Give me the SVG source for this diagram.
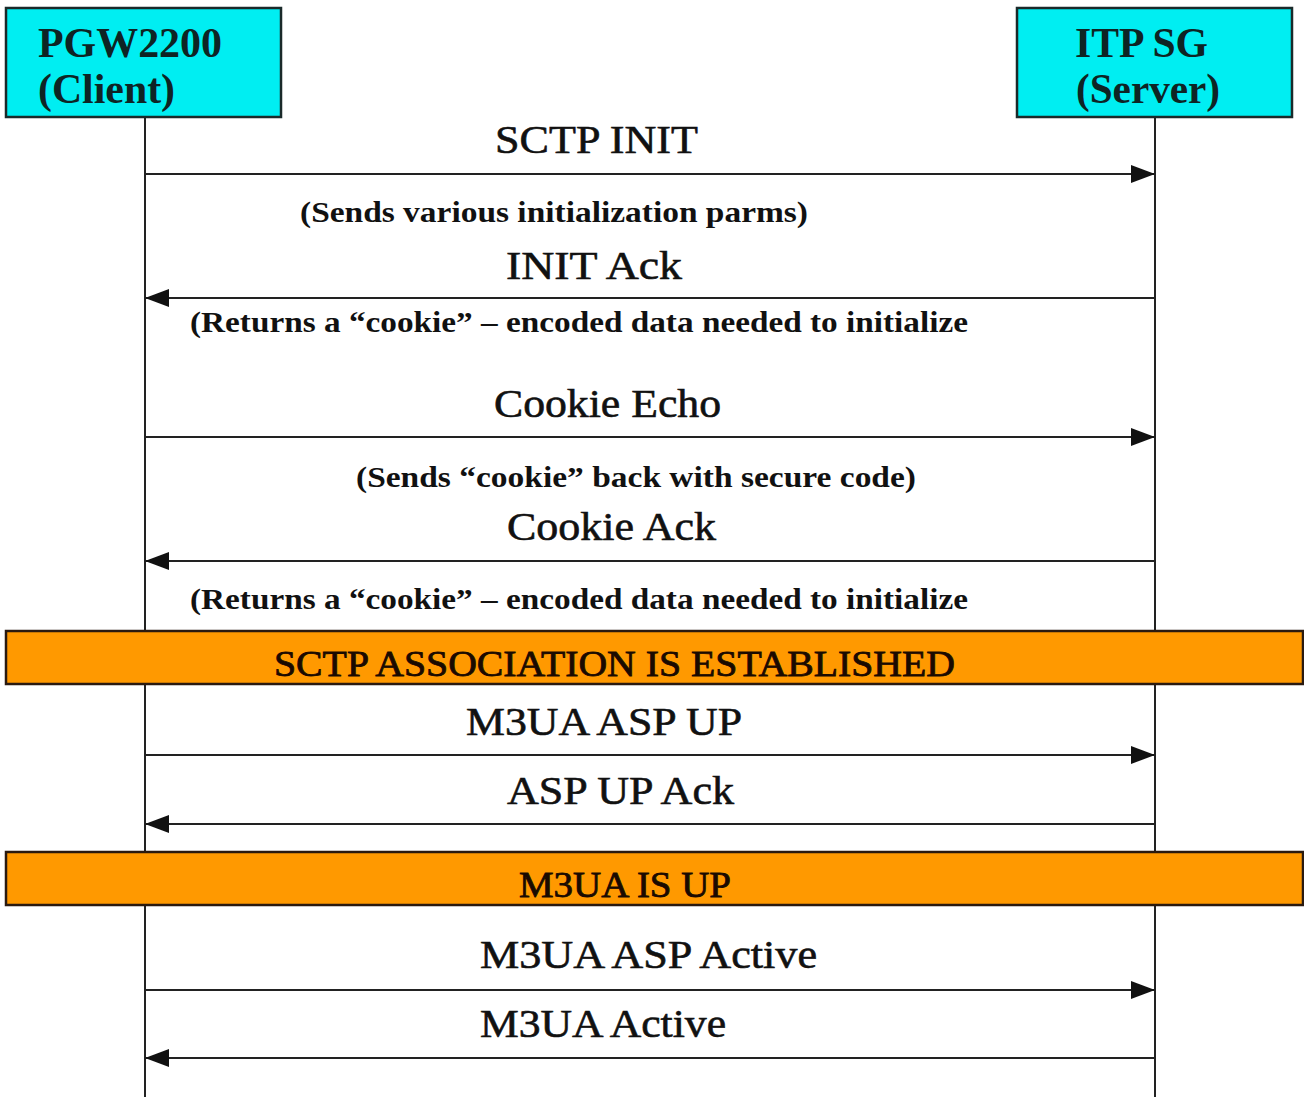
<svg xmlns="http://www.w3.org/2000/svg" width="1304" height="1097" viewBox="0 0 1304 1097">
<style>
.box{fill:#00eef2;stroke:#1a2a2a;stroke-width:2.5}
.bar{fill:#ff9900;stroke:#2a1a10;stroke-width:2.5}
.life{stroke:#222;stroke-width:2}
.msg{stroke:#222;stroke-width:2.2;fill:none;marker-end:url(#ah)}
.hd{font-family:"Liberation Serif","Times New Roman",serif;font-weight:bold;font-size:42px;fill:#0e2424}
.lbl{font-family:"Liberation Serif","Times New Roman",serif;font-size:40px;fill:#111;stroke:#111;stroke-width:0.6}
.lblb{font-family:"Liberation Serif","Times New Roman",serif;font-weight:bold;font-size:30px;fill:#111}
.bart{font-family:"Liberation Serif","Times New Roman",serif;font-size:36px;fill:#1a0a00;stroke:#1a0a00;stroke-width:0.8}
</style>
<defs>
<marker id="ah" markerUnits="userSpaceOnUse" markerWidth="26" markerHeight="20" refX="24" refY="10" orient="auto">
<path d="M0,1 L24,10 L0,19 z" fill="#111"/>
</marker>
</defs>
<rect width="1304" height="1097" fill="#ffffff"/>
<g id="lifelines">
<line class="life" x1="145" y1="118" x2="145" y2="1097"/>
<line class="life" x1="1155" y1="118" x2="1155" y2="1097"/>
</g>
<g id="node-pgw2200">
<rect class="box" x="6" y="8" width="275" height="109"/>
<text class="hd" x="38" y="57" textLength="184" lengthAdjust="spacingAndGlyphs">PGW2200</text>
<text class="hd" x="38" y="103" textLength="137" lengthAdjust="spacingAndGlyphs">(Client)</text>
</g>
<g id="node-itpsg">
<rect class="box" x="1017" y="8" width="275" height="109"/>
<text class="hd" x="1075" y="57" textLength="133" lengthAdjust="spacingAndGlyphs">ITP SG</text>
<text class="hd" x="1076" y="103" textLength="144" lengthAdjust="spacingAndGlyphs">(Server)</text>
</g>
<g id="connectors">
<line class="msg" x1="145" y1="174" x2="1155" y2="174"/>
<line class="msg" x1="1155" y1="298" x2="145" y2="298"/>
<line class="msg" x1="145" y1="437" x2="1155" y2="437"/>
<line class="msg" x1="1155" y1="561" x2="145" y2="561"/>
<line class="msg" x1="145" y1="755" x2="1155" y2="755"/>
<line class="msg" x1="1155" y1="824" x2="145" y2="824"/>
<line class="msg" x1="145" y1="990" x2="1155" y2="990"/>
<line class="msg" x1="1155" y1="1058" x2="145" y2="1058"/>
</g>
<g id="labels">
<text class="lbl" x="495" y="153" textLength="203" lengthAdjust="spacingAndGlyphs">SCTP INIT</text>
<text class="lblb" x="300" y="222" textLength="508" lengthAdjust="spacingAndGlyphs">(Sends various initialization parms)</text>
<text class="lbl" x="506" y="279" textLength="176" lengthAdjust="spacingAndGlyphs">INIT Ack</text>
<text class="lblb" x="190" y="332" textLength="778" lengthAdjust="spacingAndGlyphs">(Returns a “cookie” – encoded data needed to initialize</text>
<text class="lbl" x="494" y="417" textLength="227" lengthAdjust="spacingAndGlyphs">Cookie Echo</text>
<text class="lblb" x="356" y="487" textLength="560" lengthAdjust="spacingAndGlyphs">(Sends “cookie” back with secure code)</text>
<text class="lbl" x="507" y="540" textLength="209" lengthAdjust="spacingAndGlyphs">Cookie Ack</text>
<text class="lblb" x="190" y="609" textLength="778" lengthAdjust="spacingAndGlyphs">(Returns a “cookie” – encoded data needed to initialize</text>
<text class="lbl" x="466" y="735" textLength="276" lengthAdjust="spacingAndGlyphs">M3UA ASP UP</text>
<text class="lbl" x="507" y="804" textLength="227" lengthAdjust="spacingAndGlyphs">ASP UP Ack</text>
<text class="lbl" x="480" y="968" textLength="337" lengthAdjust="spacingAndGlyphs">M3UA ASP Active</text>
<text class="lbl" x="480" y="1037" textLength="246" lengthAdjust="spacingAndGlyphs">M3UA Active</text>
</g>
<g id="node-sctp-established">
<rect class="bar" x="6" y="631" width="1297" height="53"/>
<text class="bart" x="274" y="676" textLength="681" lengthAdjust="spacingAndGlyphs">SCTP ASSOCIATION IS ESTABLISHED</text>
</g>
<g id="node-m3ua-up">
<rect class="bar" x="6" y="852" width="1297" height="53"/>
<text class="bart" x="519" y="897" textLength="212" lengthAdjust="spacingAndGlyphs">M3UA IS UP</text>
</g>
</svg>
